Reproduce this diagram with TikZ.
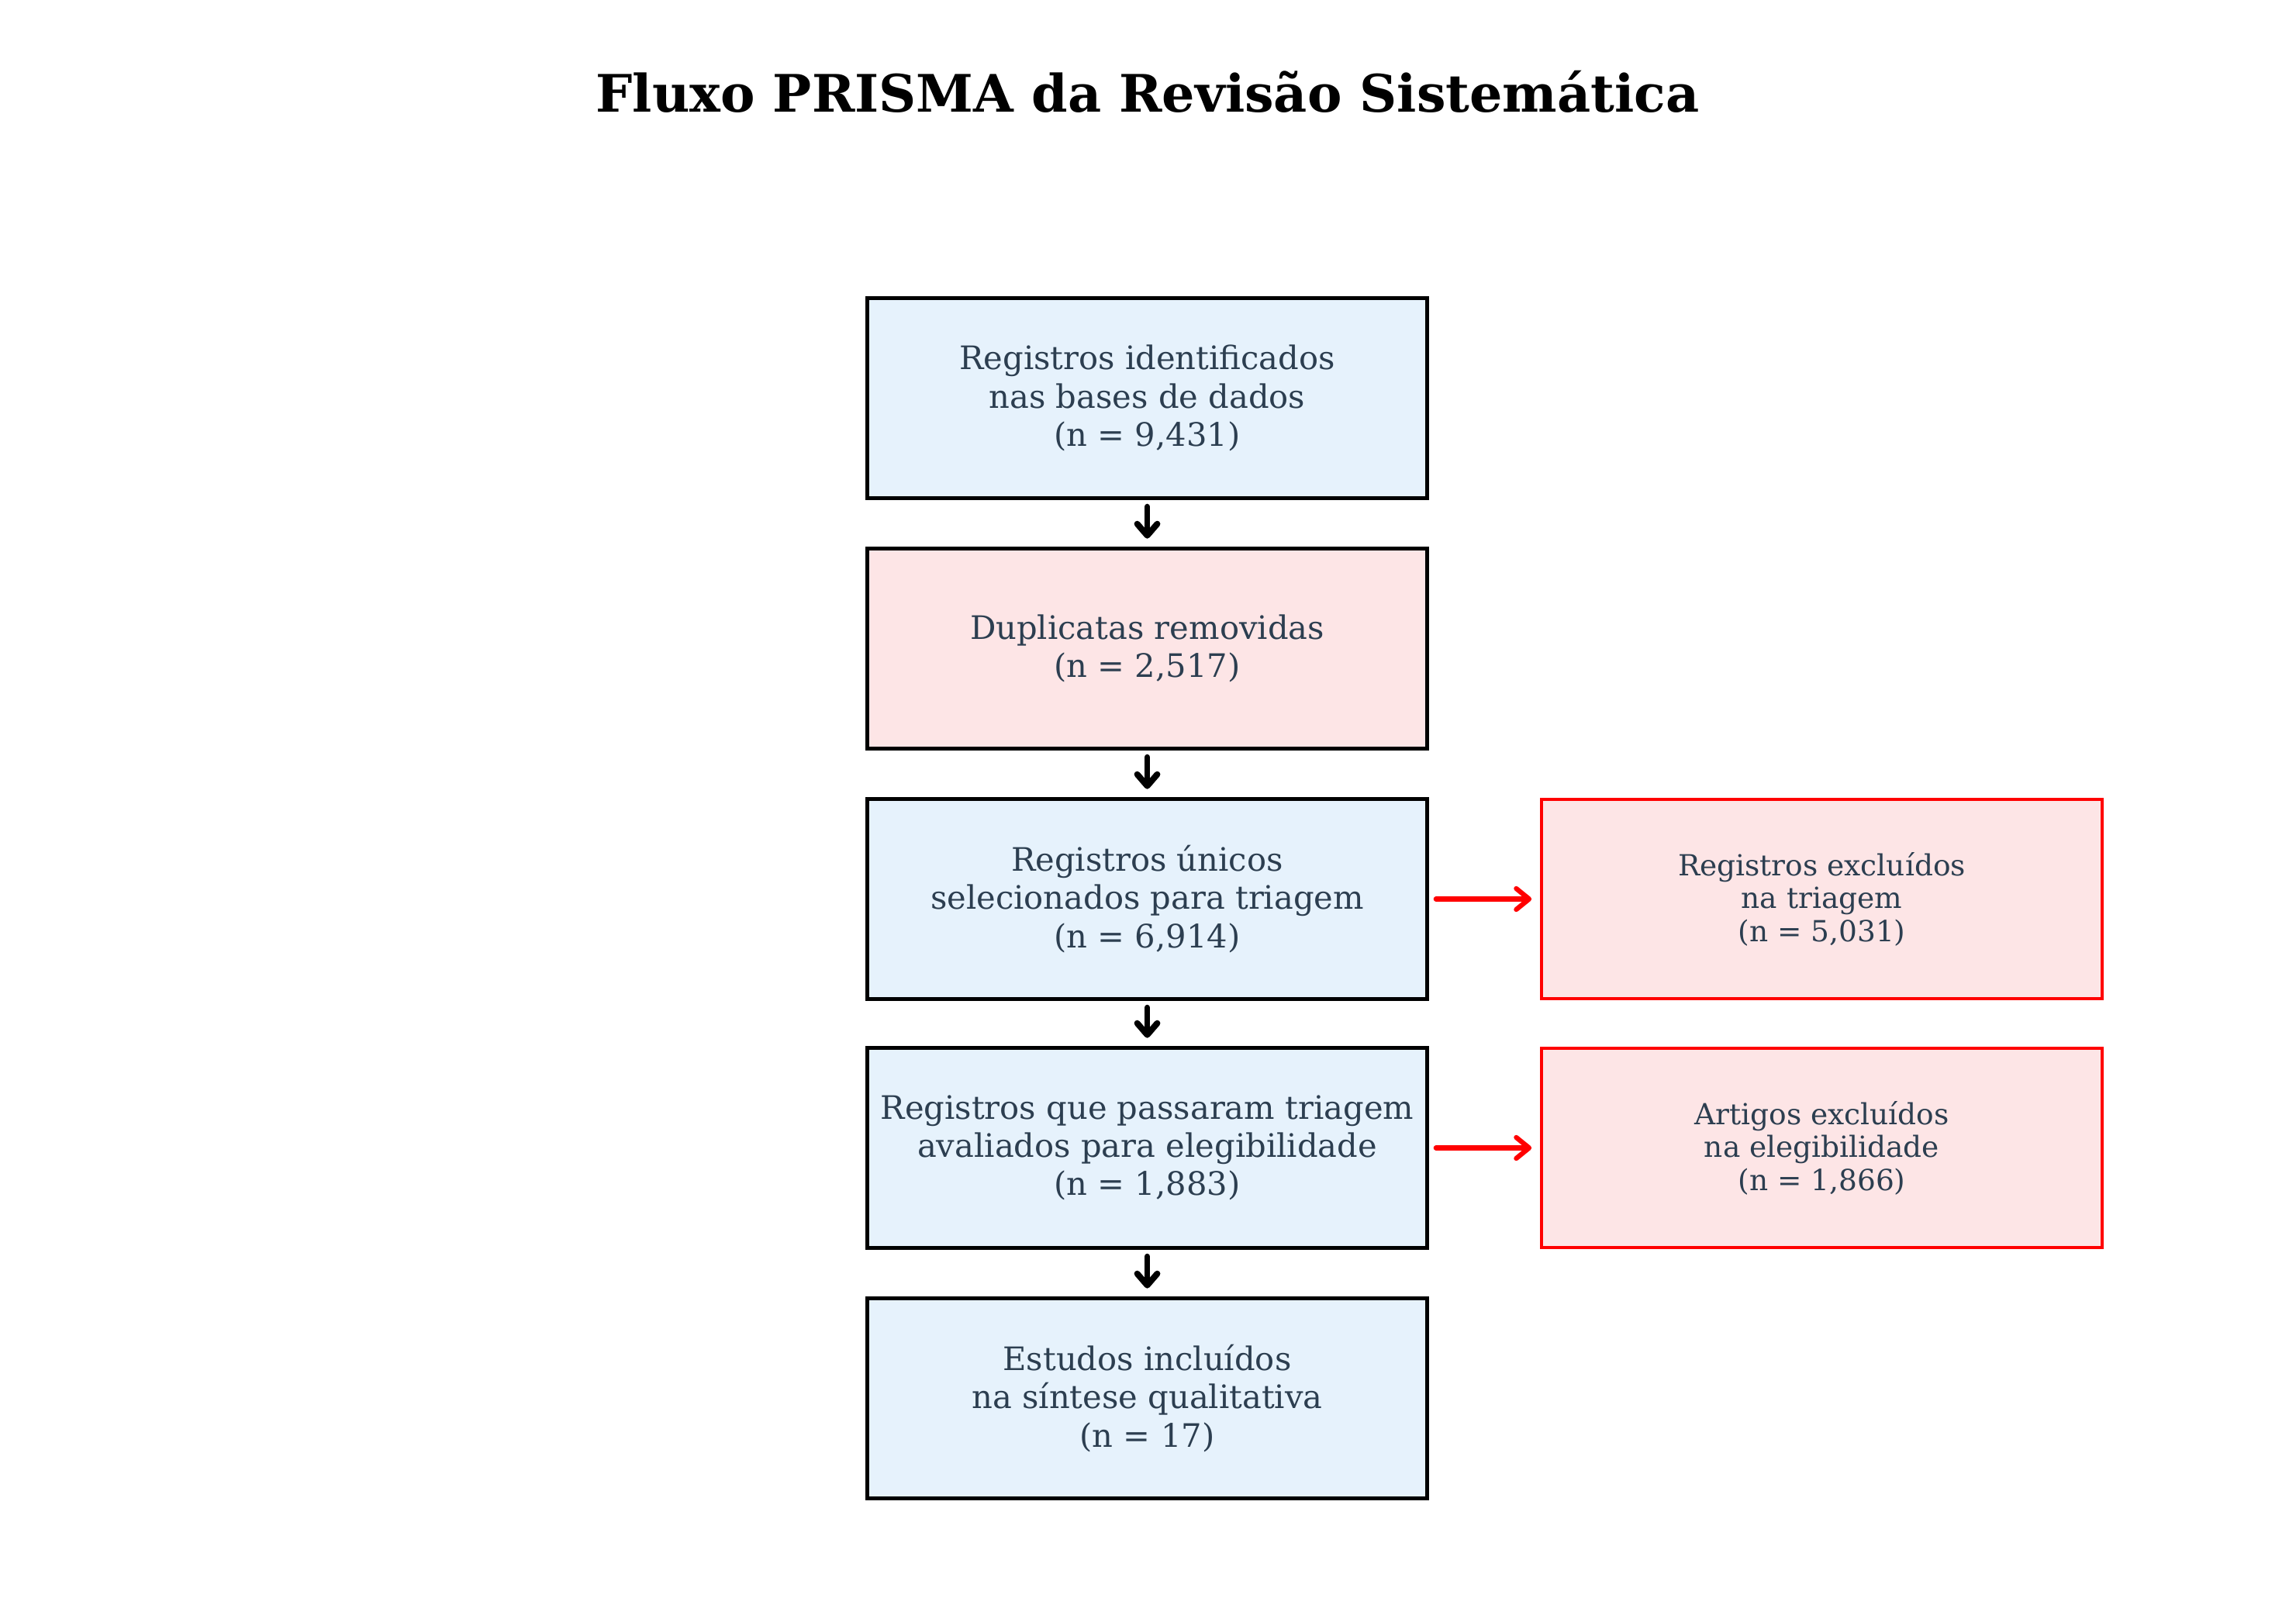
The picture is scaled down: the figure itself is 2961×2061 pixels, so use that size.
\documentclass[tikz,border=0pt]{standalone}
\usepackage{fontspec}
\setmainfont{DejaVu Serif}
\usetikzlibrary{arrows.meta}
\definecolor{txt}{RGB}{44,62,80}
\definecolor{bluefill}{RGB}{230,242,252}
\definecolor{pinkfill}{RGB}{253,229,230}
\tikzset{
  mainbox/.style={draw=black, line width=1.2pt, fill=bluefill, minimum width=173.5pt, minimum height=61.7pt, inner sep=0pt, align=center, text=txt, font=\fontsize{10}{11.8}\selectfont},
  pinkbox/.style={mainbox, fill=pinkfill},
  exclbox/.style={draw=red, line width=1.0pt, fill=pinkfill, minimum width=173.5pt, minimum height=61.7pt, inner sep=0pt, align=center, text=txt, font=\fontsize{9}{10.2}\selectfont},
  downarrow/.style={draw=black, line width=1.9pt, line cap=round, -{Straight Barb[length=3.6pt,width=6.2pt,round]}, shorten <=2.2pt, shorten >=2.6pt},
  redarrow/.style={draw=red, line width=1.5pt, line cap=round, -{Straight Barb[length=4pt,width=6.5pt,round]}, shorten <=2pt, shorten >=2.6pt}
}
\begin{document}
\begin{tikzpicture}[x=0.24pt, y=-0.24pt]
\useasboundingbox[fill=white] (0,0) rectangle (2961,2061);
\node[font=\fontsize{16}{19}\bfseries\selectfont] (title) at (1480,118) {Fluxo PRISMA da Revisão Sistemática};
\node[mainbox] (b1) at (1479.5,513.5) {Registros identificados\\nas bases de dados\\(n = 9,431)};
\node[pinkbox] (b2) at (1479.5,836.5) {Duplicatas removidas\\(n = 2,517)};
\node[mainbox] (b3) at (1479.5,1159.5) {Registros únicos\\selecionados para triagem\\(n = 6,914)};
\node[mainbox] (b4) at (1479.5,1480.5) {Registros que passaram triagem\\avaliados para elegibilidade\\(n = 1,883)};
\node[mainbox] (b5) at (1479.5,1803.5) {Estudos incluídos\\na síntese qualitativa\\(n = 17)};
\node[exclbox] (e1) at (2349.5,1159.5) {Registros excluídos\\na triagem\\(n = 5,031)};
\node[exclbox] (e2) at (2349.5,1480.5) {Artigos excluídos\\na elegibilidade\\(n = 1,866)};
\draw[downarrow] (b1) -- (b2);
\draw[downarrow] (b2) -- (b3);
\draw[downarrow] (b3) -- (b4);
\draw[downarrow] (b4) -- (b5);
\draw[redarrow] (b3) -- (e1);
\draw[redarrow] (b4) -- (e2);
\end{tikzpicture}
\end{document}
